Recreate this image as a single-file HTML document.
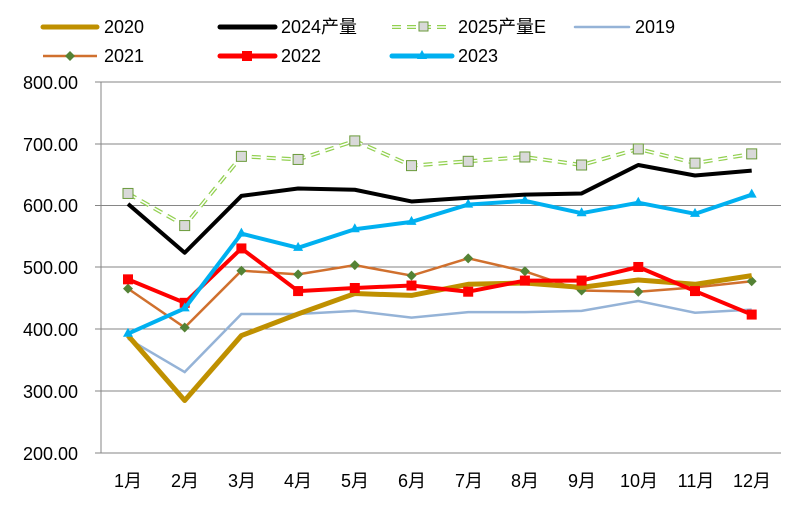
<!DOCTYPE html>
<html><head><meta charset="utf-8"><style>
body{margin:0;background:#fff}
svg text{font-family:"Liberation Sans","Noto Sans CJK SC",sans-serif;fill:#000}
</style></head><body>
<svg width="806" height="509" viewBox="0 0 806 509" xmlns="http://www.w3.org/2000/svg">
<g stroke="#868686" stroke-width="1">
<line x1="95" y1="82" x2="781" y2="82"/><line x1="95" y1="144" x2="781" y2="144"/>
<line x1="95" y1="205.5" x2="781" y2="205.5"/><line x1="95" y1="267" x2="781" y2="267"/>
<line x1="95" y1="329" x2="781" y2="329"/><line x1="95" y1="391" x2="781" y2="391"/>
<line x1="95" y1="453" x2="781" y2="453"/><line x1="101" y1="82" x2="101" y2="453"/>
</g>
<g font-size="18" text-anchor="end">
<text x="78" y="89">800.00</text><text x="78" y="151">700.00</text><text x="78" y="212">600.00</text>
<text x="78" y="274">500.00</text><text x="78" y="336">400.00</text><text x="78" y="398">300.00</text>
<text x="78" y="460">200.00</text>
</g>
<g font-size="18" text-anchor="middle">
<text x="128" y="487">1月</text><text x="185" y="487">2月</text><text x="242" y="487">3月</text><text x="298" y="487">4月</text>
<text x="355" y="487">5月</text><text x="412" y="487">6月</text><text x="469" y="487">7月</text><text x="525" y="487">8月</text>
<text x="582" y="487">9月</text><text x="639" y="487">10月</text><text x="696" y="487">11月</text><text x="752" y="487">12月</text>
</g>
<g id="series"></g>
<g font-size="18">
<line x1="43" y1="27" x2="97" y2="27" stroke="#BF9000" stroke-width="5" stroke-linecap="round"/><text x="104" y="33">2020</text>
<line x1="220" y1="27" x2="275" y2="27" stroke="#000" stroke-width="5" stroke-linecap="round"/><text x="281" y="33">2024产量</text>
<line x1="392" y1="27" x2="450" y2="27" stroke="#92D050" stroke-width="4" stroke-dasharray="9,6"/><line x1="392" y1="27" x2="450" y2="27" stroke="#fff" stroke-width="1.5" stroke-dasharray="9,6"/>
<rect x="419" y="22" width="9" height="9" fill="#D9D9D9" stroke="#6A9A3A"/><text x="458" y="33">2025产量E</text>
<line x1="575" y1="27" x2="629" y2="27" stroke="#95B3D7" stroke-width="2.5" stroke-linecap="round"/><text x="635" y="33">2019</text>
<line x1="43" y1="56" x2="97" y2="56" stroke="#D0702E" stroke-width="2.5"/><path d="M70 51 L75 56 L70 61 L65 56Z" fill="#548235"/><text x="104" y="62">2021</text>
<line x1="220" y1="56" x2="275" y2="56" stroke="#f00" stroke-width="5" stroke-linecap="round"/><rect x="242" y="51" width="10" height="10" fill="#f00"/><text x="281" y="62">2022</text>
<line x1="392" y1="56" x2="452" y2="56" stroke="#00B0F0" stroke-width="5" stroke-linecap="round"/><path d="M422 50 L427 59 L417 59Z" fill="#00B0F0"/><text x="458" y="62">2023</text>
</g>
</svg>
<script>
var xs=[],i;for(i=0;i<12;i++)xs.push(128+i*56.7);
function Y(v){return 453-(v-200)*0.618;}
var g=document.getElementById('series'),NS='http://www.w3.org/2000/svg';
function pl(d,attrs){var p=document.createElementNS(NS,'polyline');p.setAttribute('points',d.map(function(v,i){return xs[i]+','+Y(v)}).join(' '));p.setAttribute('fill','none');for(var k in attrs)p.setAttribute(k,attrs[k]);g.appendChild(p);}
function mk(d,f){d.forEach(function(v,i){g.insertAdjacentHTML('beforeend',f(xs[i],Y(v)));});}
var s19=[385,331,425,425,430,419,428,428,430,446,427,432];
var s20=[390,285,390,425,458,455,473,475,468,480,473,487];
var s21=[466,403,495,489,504,487,515,494,463,461,468,478];
var s22=[481,443,531,462,467,471,461,479,479,501,462,424];
var s23=[393,434,555,532,562,574,602,608,588,605,587,618];
var s24=[603,524,616,628,626,607,613,618,620,666,649,657];
var s25=[620,568,680,675,705,665,672,679,666,692,669,684];
pl(s19,{stroke:'#95B3D7','stroke-width':2.5});
pl(s21,{stroke:'#D0702E','stroke-width':2.5});
mk(s21,function(x,y){return '<path xmlns="'+NS+'" d="M'+x+' '+(y-5)+' L'+(x+5)+' '+y+' L'+x+' '+(y+5)+' L'+(x-5)+' '+y+'Z" fill="#548235"/>';});
pl(s20,{stroke:'#BF9000','stroke-width':5,'stroke-linejoin':'round'});
pl(s22,{stroke:'#f00','stroke-width':4,'stroke-linejoin':'round'});
mk(s22,function(x,y){return '<rect xmlns="'+NS+'" x="'+(x-5)+'" y="'+(y-5)+'" width="10" height="10" fill="#f00"/>';});
pl(s23,{stroke:'#00B0F0','stroke-width':4,'stroke-linejoin':'round'});
mk(s23,function(x,y){return '<path xmlns="'+NS+'" d="M'+x+' '+(y-6)+' L'+(x+5)+' '+(y+3)+' L'+(x-5)+' '+(y+3)+'Z" fill="#00B0F0"/>';});
pl(s24,{stroke:'#000','stroke-width':4,'stroke-linejoin':'round'});
pl(s25,{stroke:'#92D050','stroke-width':4,'stroke-dasharray':'9,6'});
pl(s25,{stroke:'#fff','stroke-width':1.5,'stroke-dasharray':'9,6'});
mk(s25,function(x,y){return '<rect xmlns="'+NS+'" x="'+(x-5)+'" y="'+(y-5)+'" width="10" height="10" fill="#D9D9D9" stroke="#6A9A3A"/>';});
</script>
</body></html>
